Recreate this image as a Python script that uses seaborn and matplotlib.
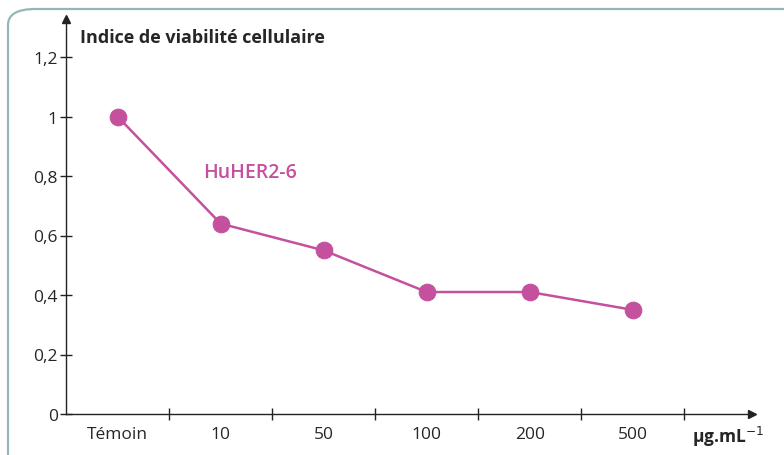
import numpy as np
import pandas as pd
import matplotlib
matplotlib.use("Agg")
import matplotlib.pyplot as plt
import seaborn as sns
from matplotlib.patches import FancyBboxPatch

# data
categories = ["Témoin", "10", "50", "100", "200", "500"]
viability = [1.0, 0.64, 0.55, 0.41, 0.41, 0.35]
y_ticks = [0, 0.2, 0.4, 0.6, 0.8, 1.0, 1.2]
y_tick_labels = ["0", "0,2", "0,4", "0,6", "0,8", "1", "1,2"]

MAGENTA = "#c4509e"
FRAME = "#93b7b8"
INK = "#222222"

sns.set_style("white")
plt.rcParams["font.family"] = ["Open Sans", "DejaVu Sans"]

df = pd.DataFrame({"pos": np.arange(len(categories)), "value": viability})

W, H = 784, 456
fig = plt.figure(figsize=(W / 100, H / 100), dpi=100)

# rounded frame, open at right and bottom (runs off the figure)
frame = FancyBboxPatch((8 / W, -0.5), 1.5, 0.5 + 1 - 10 / H,
                       boxstyle="round,pad=0,rounding_size=0.035",
                       transform=fig.transFigure, fill=False,
                       edgecolor=FRAME, linewidth=1.6)
fig.patches.append(frame)

left, bottom = 66 / W, (H - 415) / H
right, top = 752 / W, (H - 20) / H
ax = fig.add_axes([left, bottom, right - left, top - bottom])
ax.set_facecolor("none")

sns.lineplot(data=df, x="pos", y="value", ax=ax, color=MAGENTA,
             linewidth=1.8, marker="o", markersize=12,
             markeredgecolor=MAGENTA, clip_on=False)

ax.set_xlim(-0.5, (752 - 118) / 103)
ax.set_ylim(0, (415 - 20) / 297.5)

sns.despine(ax=ax)
for side in ["left", "bottom"]:
    ax.spines[side].set_color(INK)
    ax.spines[side].set_linewidth(1.0)

# axis arrows
ax.plot(1, 0, ">", color=INK, markersize=6,
        transform=ax.transAxes, clip_on=False)
ax.plot(0, 1, "^", color=INK, markersize=6,
        transform=ax.transAxes, clip_on=False)

ax.set_yticks(y_ticks)
ax.set_yticklabels(y_tick_labels, fontsize=12.5)
ax.tick_params(axis="y", left=True, direction="inout", length=8, width=1,
               color=INK, pad=2)

ax.set_xticks(np.arange(len(categories)))
ax.set_xticklabels(categories, fontsize=12.5)
ax.set_xticks(np.arange(len(categories)) + 0.5, minor=True)
ax.tick_params(axis="x", which="major", bottom=True, length=0, pad=9)
ax.tick_params(axis="x", which="minor", bottom=True, direction="inout",
               length=8, width=1, color=INK)

ax.set_xlabel("")
ax.set_ylabel("")

ax.text(14 / (752 - 66), 0.955, "Indice de viabilité cellulaire",
        transform=ax.transAxes, fontsize=13, fontweight="bold",
        va="center", ha="left")
ax.text(len(categories) - 0.43, -0.075, "µg.mL$^{-1}$", fontsize=12.5,
        fontweight="bold", va="center", ha="left")
ax.text(0.83, 0.815, "HuHER2-6", color=MAGENTA, fontsize=14,
        fontweight="semibold", va="center", ha="left")

fig.savefig("out.png", dpi=100)
